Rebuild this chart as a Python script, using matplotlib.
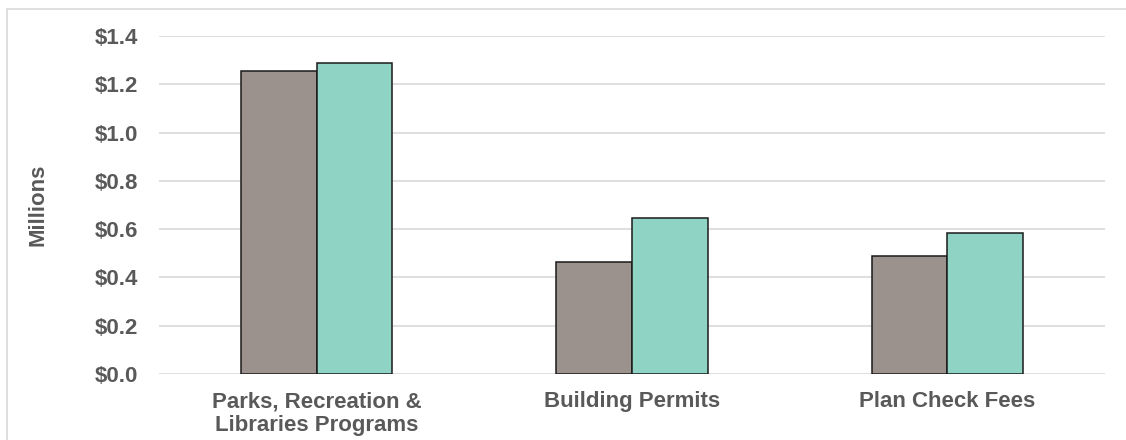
import numpy as np
import matplotlib
matplotlib.use("Agg")
import matplotlib.pyplot as plt
from matplotlib.patches import Rectangle

categories = ["Parks, Recreation &\nLibraries Programs", "Building Permits", "Plan Check Fees"]
prior_year = [1.256, 0.464, 0.489]
current_year = [1.290, 0.647, 0.585]
y_ticks = [0.0, 0.2, 0.4, 0.6, 0.8, 1.0, 1.2, 1.4]

plt.rcParams['font.family'] = ['Liberation Sans', 'DejaVu Sans']
text_color = '#595959'
fs = 16

fig = plt.figure(figsize=(11.26, 4.4), dpi=100)
ax = fig.add_axes([159 / 1126, 66 / 440, 946 / 1126, 338 / 440])

# outer chart frame
fig.patches.append(Rectangle((7 / 1126, -0.1), 1.2, (440 - 9) / 440 + 0.1,
                             transform=fig.transFigure, fill=False,
                             edgecolor='#D9D9D9', linewidth=1.2))

x = np.arange(len(categories))
w = 0.24
ax.bar(x - w / 2, prior_year, w, color='#9B918D', edgecolor='#1a1a1a', linewidth=1.1, zorder=3)
ax.bar(x + w / 2, current_year, w, color='#8FD3C5', edgecolor='#1a1a1a', linewidth=1.1, zorder=3)

ax.set_xlim(-0.5, len(categories) - 0.5)
ax.set_ylim(0, 1.4)
ax.set_yticks(y_ticks)
ax.set_yticklabels(['${:.1f}'.format(v) for v in y_ticks])
ax.set_xticks(x)
ax.set_xticklabels(categories, linespacing=1.15)
ax.grid(axis='y', color='#D9D9D9', linewidth=1.2, zorder=0)
for s in ax.spines.values():
    s.set_visible(False)
ax.tick_params(axis='both', length=0, labelsize=fs, labelcolor=text_color)
ax.tick_params(axis='y', pad=15)
ax.tick_params(axis='x', pad=12.5)
for lbl in ax.get_xticklabels() + ax.get_yticklabels():
    lbl.set_fontweight('bold')

fig.text(38 / 1126, (440 - 205) / 440, 'Millions', rotation=90, ha='center', va='center',
         fontsize=fs, fontweight='bold', color=text_color)

fig.savefig('out.png', dpi=100)
